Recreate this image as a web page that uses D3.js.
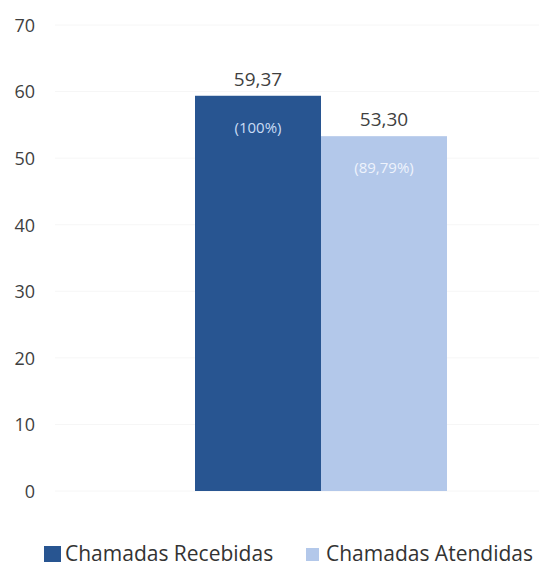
<!DOCTYPE html>
<html><head><meta charset="utf-8">
<script src="https://cdn.jsdelivr.net/npm/d3@7"></script>
<style>body{margin:0;background:#fff}svg{display:block}</style>
</head><body>
<script>
const series = ["Chamadas Recebidas", "Chamadas Atendidas"];
const values = [59.37, 53.30];
const valueLabels = ["59,37", "53,30"];
const pctLabels = ["(100%)", "(89,79%)"];
const colors = ["#285591", "#b3c8ea"];
const yTicks = [0, 10, 20, 30, 40, 50, 60, 70];

const W = 539, H = 568;
const svg = d3.select("body").append("svg").attr("width", W).attr("height", H);
const font = "'Open Sans', Lato, sans-serif";

const y = d3.scaleLinear().domain([0, 70]).range([491, 25]);
const x = d3.scaleBand().domain(series).range([195, 447]).padding(0);

// gridlines
svg.append("g").selectAll("line").data(yTicks).join("line")
  .attr("x1", 55).attr("x2", 539)
  .attr("y1", d => y(d)).attr("y2", d => y(d))
  .attr("stroke", "#f6f6f6").attr("stroke-width", 1);

// y axis labels
const yAxis = d3.axisLeft(y).tickValues(yTicks).tickSize(0).tickPadding(0);
const ga = svg.append("g").attr("transform", "translate(35,0)").call(yAxis);
ga.select(".domain").remove();
ga.selectAll("text").attr("font-family", font).attr("font-size", 18)
  .attr("fill", "#3f3f3f").attr("dy", "0.35em");

// bars
svg.append("g").selectAll("rect").data(series).join("rect")
  .attr("x", d => x(d)).attr("width", x.bandwidth())
  .attr("y", (d, i) => y(values[i]))
  .attr("height", (d, i) => y(0) - y(values[i]))
  .attr("fill", (d, i) => colors[i]);

// value labels
svg.append("g").selectAll("text").data(series).join("text")
  .attr("x", d => x(d) + x.bandwidth() / 2)
  .attr("y", (d, i) => y(values[i]) - 10)
  .attr("text-anchor", "middle")
  .attr("font-family", font).attr("font-size", 19).attr("fill", "#3f3f3f")
  .text((d, i) => valueLabels[i]);

// percent labels inside bars
svg.append("g").selectAll("text").data(series).join("text")
  .attr("x", d => x(d) + x.bandwidth() / 2)
  .attr("y", (d, i) => y(values[i]) + 37)
  .attr("text-anchor", "middle")
  .attr("font-family", font).attr("font-size", 15)
  .attr("fill", (d, i) => i === 0 ? "#c9dcf5" : "#eef3fc")
  .text((d, i) => pctLabels[i]);

// legend
const legX = [44, 306];
const leg = svg.append("g").selectAll("g").data(series).join("g")
  .attr("transform", (d, i) => `translate(${legX[i]},554)`);
leg.append("rect")
  .attr("x", 0).attr("y", (d, i) => i === 0 ? -8 : -6)
  .attr("width", (d, i) => i === 0 ? 17 : 13)
  .attr("height", (d, i) => i === 0 ? 16 : 13)
  .attr("fill", (d, i) => colors[i]);
leg.append("text")
  .attr("x", (d, i) => i === 0 ? 21 : 20).attr("dy", "0.35em")
  .attr("font-family", font).attr("font-size", 21).attr("fill", "#333")
  .text(d => d);
</script>
</body></html>
